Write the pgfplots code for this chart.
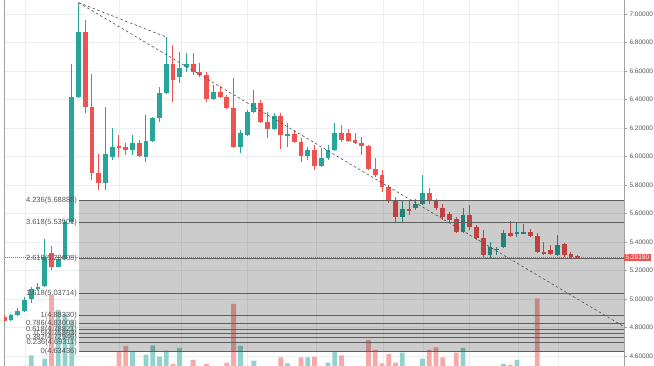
\documentclass[border=0pt]{standalone}
\usepackage{pgfplots}
\pgfplotsset{compat=1.18}
\usepackage{pgfplotstable}
\usepackage{fontspec}
\setmainfont{Liberation Sans}
\definecolor{up}{HTML}{26A69A}
\definecolor{dn}{HTML}{EF5350}
\definecolor{gridc}{HTML}{EBEEF3}
\definecolor{fibc}{HTML}{5E5E5E}
\definecolor{txt}{HTML}{555555}
\definecolor{axc}{HTML}{A0A0A0}

\pgfplotstableread{
i o h l c
1 4.853 4.895 4.846 4.886
2 4.886 4.937 4.881 4.918
3 4.914 5.012 4.909 4.993
4 4.998 5.082 4.970 5.068
5 5.068 5.110 5.063 5.082
6 5.091 5.423 5.086 5.293
8 5.227 5.297 5.222 5.278
9 5.278 5.554 5.274 5.540
10 5.540 6.649 5.535 6.416
11 6.416 7.080 6.410 6.872
15 5.816 6.345 5.765 6.018
16 5.998 6.200 5.975 6.069
19 6.046 6.151 6.011 6.093
21 5.998 6.291 5.963 6.111
22 6.111 6.275 6.104 6.268
23 6.268 6.486 6.244 6.448
24 6.448 6.837 6.440 6.649
26 6.560 6.735 6.514 6.619
27 6.630 6.724 6.595 6.647
31 6.403 6.502 6.396 6.455
35 6.069 6.186 6.022 6.163
36 6.151 6.326 6.142 6.314
37 6.314 6.467 6.303 6.373
40 6.191 6.303 6.186 6.284
42 6.149 6.233 6.069 6.158
45 6.004 6.069 5.975 6.042
47 5.933 6.058 5.924 5.987
48 5.987 6.081 5.975 6.046
49 6.046 6.233 6.041 6.163
59 5.577 5.695 5.531 5.630
61 5.636 5.705 5.623 5.670
62 5.670 5.870 5.658 5.742
68 5.472 5.636 5.461 5.590
72 5.309 5.400 5.288 5.365
73 5.344 5.367 5.309 5.354
74 5.367 5.484 5.356 5.465
76 5.456 5.531 5.437 5.468
77 5.461 5.525 5.456 5.472
82 5.309 5.449 5.302 5.379
}\upT

\pgfplotstableread{
i o h l c
0 4.876 4.888 4.839 4.848
7 5.325 5.372 5.204 5.227
12 6.872 6.958 6.303 6.345
13 6.345 6.579 5.835 5.886
14 5.886 6.018 5.765 5.816
17 6.074 6.151 5.998 6.065
18 6.069 6.093 6.011 6.046
20 6.097 6.116 5.998 6.004
25 6.649 6.782 6.385 6.537
28 6.647 6.724 6.572 6.595
29 6.595 6.654 6.556 6.572
30 6.572 6.595 6.385 6.403
32 6.455 6.495 6.410 6.420
33 6.420 6.432 6.331 6.338
34 6.338 6.549 6.058 6.069
38 6.378 6.396 6.233 6.244
39 6.244 6.314 6.128 6.191
41 6.284 6.303 6.051 6.151
43 6.158 6.186 6.097 6.104
44 6.104 6.128 5.963 6.004
46 6.046 6.081 5.905 5.933
50 6.163 6.221 6.104 6.116
51 6.163 6.191 6.104 6.111
52 6.116 6.163 6.088 6.093
53 6.097 6.139 6.011 6.074
54 6.074 6.081 5.905 5.914
55 5.914 5.987 5.858 5.872
56 5.872 5.905 5.753 5.788
57 5.786 5.800 5.674 5.688
58 5.688 5.716 5.531 5.577
60 5.630 5.695 5.589 5.620
63 5.742 5.777 5.670 5.695
64 5.695 5.705 5.628 5.636
65 5.636 5.670 5.554 5.577
66 5.594 5.613 5.531 5.554
67 5.559 5.577 5.464 5.472
69 5.590 5.660 5.484 5.507
70 5.507 5.519 5.414 5.426
71 5.426 5.484 5.297 5.309
75 5.465 5.549 5.437 5.444
78 5.472 5.489 5.437 5.444
79 5.444 5.461 5.321 5.328
80 5.332 5.402 5.307 5.316
81 5.344 5.379 5.307 5.314
83 5.384 5.395 5.297 5.309
84 5.314 5.332 5.286 5.297
85 5.300 5.309 5.288 5.292
}\dnT

\pgfplotstableread{
i v
4 10.7
6 7.3
8 56
9 52
10 45
19 14
21 11.3
22 20.7
23 9.3
24 15.3
26 18
35 20
37 5.3
42 2.7
45 8.7
48 3.3
49 14
59 13.3
62 7.3
68 18
74 2
76 6
}\volUp

\pgfplotstableread{
i v
7 71
17 14.3
18 20
25 2
28 6
30 2
33 3.3
34 62
41 8.7
44 8.7
46 9.3
50 10.7
54 26
55 16
56 2.7
57 12
58 3.3
63 16
64 18.7
65 8.7
67 13.3
75 1
79 67.7
}\volDn

\pgfplotsset{
  base/.style={at={(4pt,0pt)}, anchor=south west, scale only axis,
    width=620pt, height=366pt, xmin=-0.034, xmax=91.86},
  wick/.style={draw=none, mark=none, forget plot,
    error bars/.cd, y dir=both, y explicit, error mark=none,
    error bar style={draw=#1, line width=1pt, solid}},
  body/.style={draw=none, mark=none, forget plot,
    error bars/.cd, y dir=both, y explicit, error mark=none,
    error bar style={draw=#1, line width=4.8pt, solid}},
  fib/.style={fibc, line width=0.9pt, mark=none, forget plot},
}

\begin{document}
\begin{tikzpicture}
\path[use as bounding box] (0,0) rectangle (654pt,366pt);

% grid and price scale
\begin{axis}[base, ymin=4.530, ymax=7.098,
  xtick={3.2,17.05,26.3,36.1,46.2,56.2,62.1,69.0,76.2,82.1},
  xticklabels={}, x tick style={draw=none},
  ytick={4.6,4.8,5.0,5.2,5.4,5.6,5.8,6.0,6.2,6.4,6.6,6.8,7.0},
  yticklabels={4.60000,4.80000,5.00000,5.20000,5.40000,5.60000,5.80000,6.00000,6.20000,6.40000,6.60000,6.80000,7.00000},
  ytick pos=right, yticklabel pos=right,
  tick align=outside, major tick length=3pt,
  y tick style={axc, line width=0.6pt},
  xmajorgrids, ymajorgrids, grid style={gridc, line width=0.8pt},
  separate axis lines, x axis line style={draw=none},
  y axis line style={axc, line width=0.8pt},
  yticklabel style={font=\fontsize{6.5}{7}\selectfont, text=txt, xshift=-1pt},
  clip=false]
\addplot[draw=none, forget plot] coordinates {(0,5)};
\node[fill=dn, text=white, anchor=west, inner xsep=1.5pt, inner ysep=1.5pt,
  font=\fontsize{6.5}{7}\selectfont] at (axis cs:91.86,5.2919) {5.29190};
\end{axis}

% volume
\begin{axis}[base, ymin=0, ymax=366, hide axis]
\addplot[ybar, bar width=4.8pt, bar shift=0pt, fill=up!50, draw=none] table[x=i, y=v] {\volUp};
\addplot[ybar, bar width=4.8pt, bar shift=0pt, fill=dn!50, draw=none] table[x=i, y=v] {\volDn};
\end{axis}

% candles and drawings
\begin{axis}[base, ymin=4.530, ymax=7.098, hide axis, clip mode=individual]
\addplot[wick=up] table[x=i, y expr=(\thisrow{h}+\thisrow{l})/2, y error expr=(\thisrow{h}-\thisrow{l})/2] {\upT};
\addplot[wick=dn] table[x=i, y expr=(\thisrow{h}+\thisrow{l})/2, y error expr=(\thisrow{h}-\thisrow{l})/2] {\dnT};
\addplot[body=up] table[x=i, y expr=(\thisrow{o}+\thisrow{c})/2, y error expr={max(abs(\thisrow{c}-\thisrow{o})/2,0.0035)}] {\upT};
\addplot[body=dn] table[x=i, y expr=(\thisrow{o}+\thisrow{c})/2, y error expr={max(abs(\thisrow{c}-\thisrow{o})/2,0.0035)}] {\dnT};

% fib zone
\addplot[fill=black, fill opacity=0.2, draw=none, forget plot]
  coordinates {(11.04,4.63436) (92,4.63436) (92,5.68886) (11.04,5.68886)};
\addplot[fib] coordinates {(11.04,5.68886) (92,5.68886)};
\addplot[fib] coordinates {(11.04,5.53501) (92,5.53501)};
\addplot[fib] coordinates {(11.04,5.28608) (92,5.28608)};
\addplot[fib] coordinates {(11.04,5.03714) (92,5.03714)};
\addplot[fib] coordinates {(11.04,4.88330) (92,4.88330)};
\addplot[fib] coordinates {(11.04,4.83003) (92,4.83003)};
\addplot[fib] coordinates {(11.04,4.78821) (92,4.78821)};
\addplot[fib] coordinates {(11.04,4.75883) (92,4.75883)};
\addplot[fib] coordinates {(11.04,4.72946) (92,4.72946)};
\addplot[fib] coordinates {(11.04,4.69311) (92,4.69311)};
\addplot[fib] coordinates {(11.04,4.63436) (92,4.63436)};

% last price line
\addplot[dn, line width=0.7pt, dash pattern=on 1pt off 1pt, forget plot] coordinates {(-1,5.2919) (93,5.2919)};

% trend lines
\addplot[black!70, line width=0.6pt, dash pattern=on 2.5pt off 2.5pt, forget plot] coordinates {(11.04,7.079) (91.86,4.806)};
\addplot[black!70, line width=0.6pt, dash pattern=on 2.5pt off 2.5pt, forget plot] coordinates {(11.04,7.079) (24.08,6.837)};

% fib labels
\begin{scope}[every node/.style={anchor=east, inner sep=0pt, text=txt, font=\fontsize{7.5}{8}\selectfont}]
\node at (axis cs:10.8,5.68886) {4.236(5.68886)};
\node at (axis cs:10.8,5.53501) {3.618(5.53501)};
\node at (axis cs:10.8,5.28608) {2.618(5.28608)};
\node at (axis cs:10.8,5.03714) {1.618(5.03714)};
\node at (axis cs:10.8,4.88330) {1(4.88330)};
\node at (axis cs:10.8,4.83003) {0.786(4.83003)};
\node at (axis cs:10.8,4.78821) {0.618(4.78821)};
\node at (axis cs:10.8,4.75883) {0.5(4.75883)};
\node at (axis cs:10.8,4.72946) {0.382(4.72946)};
\node at (axis cs:10.8,4.69311) {0.236(4.69311)};
\node at (axis cs:10.8,4.63436) {0(4.63436)};
\end{scope}
\end{axis}
\end{tikzpicture}
\end{document}
